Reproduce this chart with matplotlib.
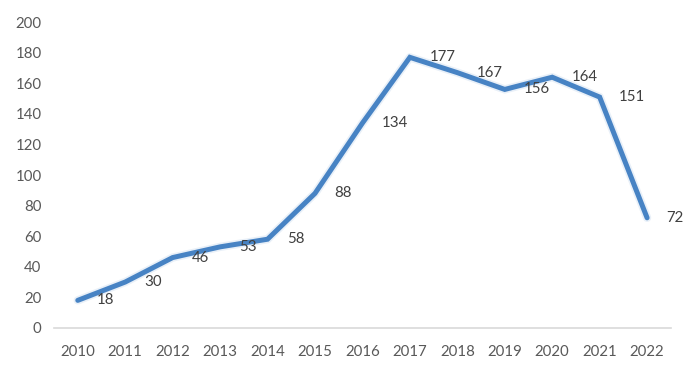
import matplotlib.pyplot as plt

years = ['2010', '2011', '2012', '2013', '2014', '2015', '2016',
         '2017', '2018', '2019', '2020', '2021', '2022']
counts = [18, 30, 46, 53, 58, 88, 134, 177, 167, 156, 164, 151, 72]

plt.rcParams['font.family'] = ['Lato', 'DejaVu Sans']

fig = plt.figure(figsize=(6.93, 3.76), dpi=100)
ax = fig.add_axes([0.078, 0.128, 0.89, 0.813])

x = range(len(years))
# faint glow under the line, like the office chart
ax.plot(x, counts, color='#4a86c8', lw=6.0, alpha=0.12, solid_capstyle='round')
ax.plot(x, counts, color='#4783c4', lw=3.6, solid_capstyle='round', solid_joinstyle='miter')

for i, v in enumerate(counts):
    ax.annotate(str(v), (i, v), xytext=(14, 0), textcoords='offset points',
                ha='left', va='center', fontsize=10.8, color='#404040')

ax.set_xlim(-0.5, len(years) - 0.5)
ax.set_ylim(0, 200)
ax.set_yticks(range(0, 201, 20))
ax.set_xticks(list(x))
ax.set_xticklabels(years)

for s in ['top', 'right', 'left']:
    ax.spines[s].set_visible(False)
ax.spines['bottom'].set_color('#d9d9d9')
ax.spines['bottom'].set_linewidth(1.2)
ax.tick_params(length=0, labelsize=10.8, colors='#595959')
ax.tick_params(axis='x', pad=12)
ax.tick_params(axis='y', pad=9)

fig.savefig('out.png', dpi=100)
